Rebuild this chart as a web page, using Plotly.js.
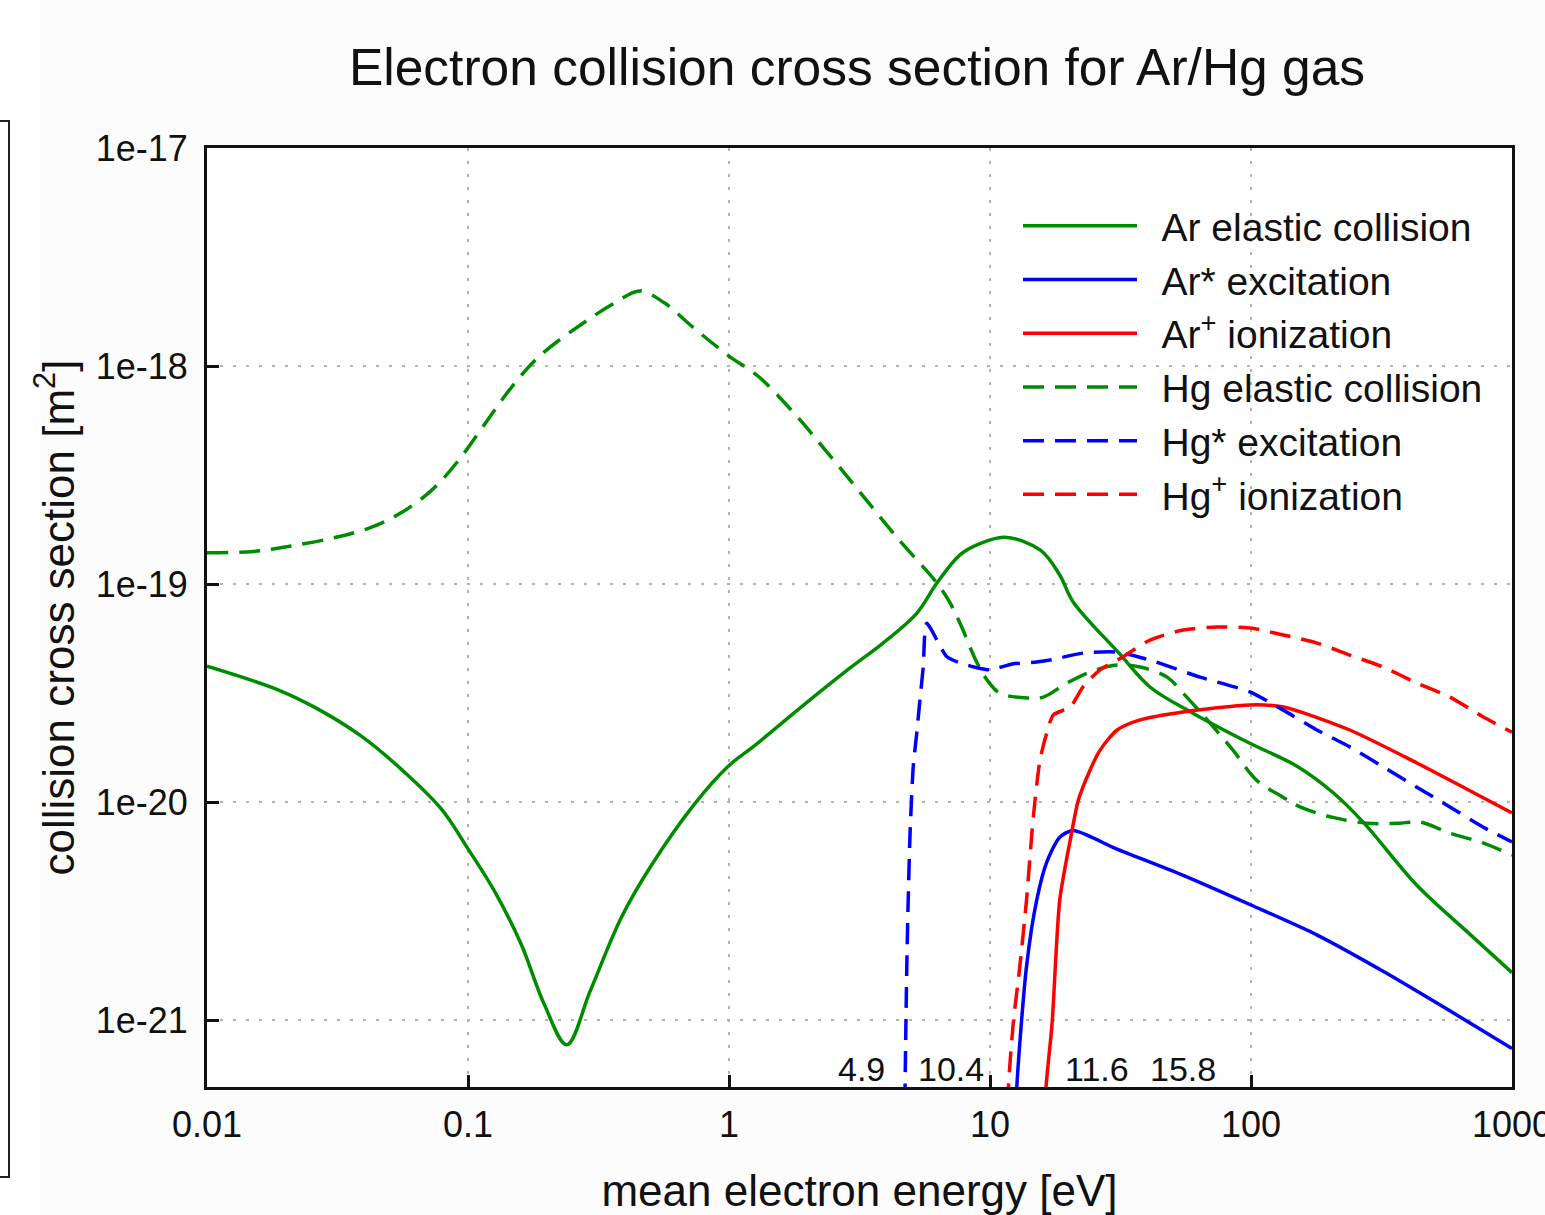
<!DOCTYPE html>
<html>
<head>
<meta charset="utf-8">
<script src="https://cdn.plot.ly/plotly-3.0.1.min.js"></script>
<style>html,body{margin:0;padding:0;background:#fcfcfc;} #chart{width:1545px;height:1215px;}</style>
</head>
<body>
<div id="chart"></div>
<script>
// ---- data (energy in eV, cross section in m^2) ----
const arElasticX = [0.01, 0.0185, 0.026, 0.0389, 0.0564, 0.079, 0.1, 0.1265, 0.16, 0.196, 0.239, 0.294, 0.386, 0.505, 0.731, 1, 1.25, 1.85, 2.91, 3.89, 5.25, 6.26, 7.67, 9.0, 11.4, 15.6, 18.5, 20.8, 31.4, 41, 60.1, 99, 150, 207, 270, 432, 671, 1000];
const arElasticY = [4.2e-20, 3.29e-20, 2.71e-20, 2.01e-20, 1.39e-20, 9.3e-21, 6.1e-21, 3.89e-21, 2.22e-21, 1.18e-21, 7.7e-22, 1.36e-21, 2.94e-21, 5.14e-21, 9.66e-21, 1.47e-20, 1.81e-20, 2.67e-20, 4.12e-20, 5.36e-20, 7.36e-20, 1.01e-19, 1.36e-19, 1.52e-19, 1.64e-19, 1.43e-19, 1.10e-19, 8.3e-20, 4.78e-20, 3.37e-20, 2.55e-20, 1.86e-20, 1.46e-20, 1.10e-20, 8.05e-21, 4.15e-21, 2.55e-21, 1.65e-21];

const arExcX = [11.6, 12.4, 12.65, 13.8, 15.1, 16.5, 18.5, 20.8, 30.5, 55, 100, 178.6, 322, 580, 1000];
const arExcY = [1e-23, 2e-22, 4.8e-22, 1.76e-21, 3.55e-21, 5.3e-21, 6.9e-21, 7.4e-21, 6.1e-21, 4.61e-21, 3.37e-21, 2.46e-21, 1.67e-21, 1.10e-21, 7.4e-22];

const arIonX = [15.8, 16.0, 16.3, 17.3, 18.5, 20.3, 21.7, 22.7, 26.4, 30.7, 37.6, 54.9, 99, 133, 239, 432, 1000];
const arIonY = [1e-23, 1.5e-22, 4.5e-22, 9.7e-22, 3.55e-21, 6.7e-21, 1e-20, 1.17e-20, 1.73e-20, 2.14e-20, 2.38e-20, 2.59e-20, 2.79e-20, 2.73e-20, 2.14e-20, 1.51e-20, 8.9e-21];

const hgElasticX = [0.01, 0.0151, 0.0207, 0.0307, 0.042, 0.0554, 0.073, 0.0925, 0.117, 0.148, 0.188, 0.267, 0.366, 0.455, 0.565, 0.716, 1, 1.29, 1.77, 2.33, 3.19, 4.47, 6.26, 7.03, 7.67, 8.92, 9.75, 10.9, 13.9, 16.0, 19.7, 24.2, 30.7, 37.6, 47.7, 54.9, 69.7, 85.3, 105, 133, 154, 206, 278, 372, 444, 578, 774, 1000];
const hgElasticY = [1.39e-19, 1.41e-19, 1.49e-19, 1.63e-19, 1.81e-19, 2.12e-19, 2.71e-19, 3.72e-19, 5.5e-19, 8.09e-19, 1.11e-18, 1.53e-18, 1.95e-18, 2.21e-18, 1.95e-18, 1.53e-18, 1.11e-18, 9.0e-19, 6.1e-19, 4.14e-19, 2.62e-19, 1.6e-19, 1.01e-19, 8.19e-20, 6.62e-20, 4.35e-20, 3.63e-20, 3.16e-20, 3.0e-20, 3.03e-20, 3.51e-20, 3.95e-20, 4.25e-20, 4.16e-20, 3.74e-20, 3.16e-20, 2.30e-20, 1.73e-20, 1.26e-20, 1.05e-20, 9.5e-21, 8.5e-21, 8.0e-21, 8.0e-21, 8.1e-21, 7.2e-21, 6.49e-21, 5.7e-21];

const hgExcX = [4.70, 4.72, 4.8, 4.86, 4.94, 5.08, 5.24, 5.39, 5.55, 5.72, 6.82, 7.67, 9.0, 10, 12.2, 15.1, 17.0, 22.7, 30.7, 41, 63.8, 99, 133, 179, 239, 321, 432, 578, 774, 1000];
const hgExcY = [1e-23, 4.0e-22, 1.76e-21, 3.55e-21, 7.2e-21, 1.45e-20, 2.07e-20, 2.94e-20, 4.18e-20, 6.6e-20, 4.65e-20, 4.35e-20, 4.12e-20, 4.04e-20, 4.3e-20, 4.39e-20, 4.48e-20, 4.82e-20, 4.87e-20, 4.48e-20, 3.74e-20, 3.2e-20, 2.64e-20, 2.14e-20, 1.79e-20, 1.45e-20, 1.17e-20, 9.5e-21, 7.68e-21, 6.56e-21];

const hgIonX = [10.4, 11.5, 11.75, 12.28, 13.0, 13.8, 14.65, 15.55, 16.5, 17.5, 20.3, 22.7, 26.4, 32.3, 41, 54.9, 74.1, 99, 133, 179, 239, 321, 432, 578, 774, 1000];
const hgIonY = [1e-23, 1.5e-22, 4.78e-22, 9.7e-22, 1.75e-21, 3.55e-21, 8.5e-21, 1.56e-20, 2.07e-20, 2.51e-20, 2.73e-20, 3.37e-20, 4.04e-20, 4.63e-20, 5.53e-20, 6.15e-20, 6.35e-20, 6.29e-20, 5.84e-20, 5.36e-20, 4.72e-20, 4.16e-20, 3.51e-20, 3.03e-20, 2.46e-20, 2.09e-20];

const seriesNames = ['Ar elastic collision', 'Ar* excitation', 'Ar<sup>+</sup> ionization', 'Hg elastic collision', 'Hg* excitation', 'Hg<sup>+</sup> ionization'];

const xTickVals = [0.01, 0.1, 1, 10, 100, 1000];
const xTickText = ['0.01', '0.1', '1', '10', '100', '1000'];
const yTickVals = [1e-21, 1e-20, 1e-19, 1e-18, 1e-17];
const yTickText = ['1e-21', '1e-20', '1e-19', '1e-18', '1e-17'];

const thresholdLabels = ['4.9', '10.4', '11.6', '15.8'];
const thresholdLabelPos = [3.21, 7.10, 25.7, 54.8]; // label placement along x (eV)

// ---- styles ----
const GREEN = 'rgb(0,140,0)', BLUE = '#0000ff', RED = '#ff0000';
const DASH = '21px,11px';
const LW = 3.5;
function tr(x, y, name, color, dash, smooth) {
  return {x: x, y: y, name: '\u2002' + name, type: 'scatter', mode: 'lines',
    line: {color: color, width: LW, dash: dash, shape: 'spline', smoothing: smooth}, hoverinfo: 'skip'};
}
const traces = [
  tr(arElasticX, arElasticY, seriesNames[0], GREEN, 'solid', 1.0),
  tr(arExcX, arExcY, seriesNames[1], BLUE, 'solid', 0.7),
  tr(arIonX, arIonY, seriesNames[2], RED, 'solid', 0.7),
  tr(hgElasticX, hgElasticY, seriesNames[3], GREEN, DASH, 1.0),
  tr(hgExcX, hgExcY, seriesNames[4], BLUE, DASH, 0.6),
  tr(hgIonX, hgIonY, seriesNames[5], RED, DASH, 0.7)
];

const FONT = 'Liberation Sans, Arial, sans-serif';
const annotations = thresholdLabels.map((t, i) => ({
  text: t, x: Math.log10(thresholdLabelPos[i]), xref: 'x', y: 0.019, yref: 'paper',
  showarrow: false, font: {family: FONT, size: 34, color: '#111'}, xanchor: 'center', yanchor: 'middle'
}));

// plot-area px -> paper coordinate helpers
const PL = 207, PW = 1305, PT = 148, PH = 939;
const px2x = p => (p - PL) / PW;
const py2y = p => 1 - (p - PT) / PH;
const NB = '\u00a0';

const layout = {
  width: 1545, height: 1215,
  margin: {l: 207, r: 33, t: 148, b: 128, pad: 0},
  paper_bgcolor: '#fcfcfc', plot_bgcolor: '#ffffff',
  font: {family: FONT, color: '#111'},
  title: {text: 'Electron collision cross section for Ar/Hg gas', font: {size: 51.5, family: FONT, color: '#111'},
    x: 857 / 1545, xanchor: 'center', xref: 'container', y: 1 - 67 / 1215, yanchor: 'middle', yref: 'container'},
  xaxis: {
    type: 'log', range: [-2, 3],
    tickvals: xTickVals, ticktext: xTickText, ticklabeloverflow: 'allow',
    ticks: 'inside', ticklen: 12, tickwidth: 3, tickcolor: '#111',
    showline: true, linewidth: 3, linecolor: '#111', mirror: true,
    showgrid: true, gridcolor: '#b4b4ac', gridwidth: 2, griddash: '3px,10px',
    zeroline: false, tickfont: {size: 36, family: FONT, color: '#111'},
    ticklabelstandoff: 4,
    title: {text: NB + NB + NB + 'mean electron energy [eV]', font: {size: 44, family: FONT, color: '#111'}, standoff: 39}
  },
  yaxis: {
    type: 'log', range: [Math.log10(4.93e-22), -17],
    tickvals: yTickVals, ticktext: yTickText,
    ticks: 'inside', ticklen: 12, tickwidth: 3, tickcolor: '#111',
    showline: true, linewidth: 3, linecolor: '#111', mirror: true,
    showgrid: true, gridcolor: '#b4b4ac', gridwidth: 2, griddash: '3px,10px',
    zeroline: false, tickfont: {size: 36, family: FONT, color: '#111'},
    ticklabelstandoff: 9,
    title: {text: NB + NB + NB + NB + 'collision cross section [m<sup>2</sup>]', font: {size: 44, family: FONT, color: '#111'}, standoff: 8}
  },
  legend: {
    x: px2x(1018), xanchor: 'left', y: py2y(194), yanchor: 'top',
    bgcolor: 'rgba(0,0,0,0)', borderwidth: 0,
    font: {size: 39, family: FONT, color: '#111'},
    itemwidth: 114, tracegroupgap: 0
  },
  showlegend: true,
  annotations: annotations,
  shapes: [
    {type: 'rect', xref: 'paper', yref: 'paper', x0: px2x(-5), x1: px2x(40), y0: py2y(1220), y1: py2y(-5),
      fillcolor: '#ffffff', line: {width: 0}, layer: 'below'},
    {type: 'path', xref: 'paper', yref: 'paper',
      path: 'M' + px2x(-5) + ',' + py2y(121) + ' L' + px2x(9) + ',' + py2y(121) + ' L' + px2x(9) + ',' + py2y(1177) + ' L' + px2x(-5) + ',' + py2y(1177),
      line: {color: '#222', width: 2}, layer: 'above'}
  ]
};

Plotly.newPlot('chart', traces, layout, {displayModeBar: false, staticPlot: true});
</script>
</body>
</html>
